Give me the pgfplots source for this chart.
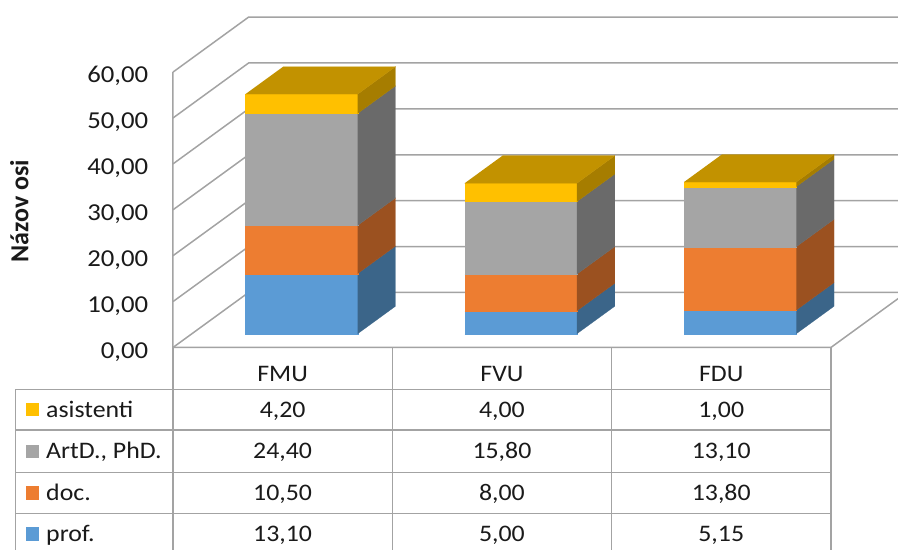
\documentclass[border=0pt]{standalone}
\usepackage{pgfplots}
\pgfplotsset{compat=1.18}
\usepackage{pgfplotstable}
\usepackage{fontspec}
\setmainfont{Carlito}
\newfontfamily\tickfont{Carlito}[FakeStretch=1.1]
\newfontfamily\tabfont{Carlito}[FakeStretch=1.09]

\definecolor{cBlue}{HTML}{5B9BD5}
\definecolor{cBlueS}{HTML}{3B6589}
\definecolor{cOr}{HTML}{ED7D31}
\definecolor{cOrS}{HTML}{9B5120}
\definecolor{cGr}{HTML}{A5A5A5}
\definecolor{cGrS}{HTML}{6A6A6A}
\definecolor{cYe}{HTML}{FFC000}
\definecolor{cYeS}{HTML}{A67D00}
\definecolor{cYeT}{HTML}{C29200}
\definecolor{gridc}{HTML}{A3A3A3}
\definecolor{txt}{HTML}{1A1A1A}

\pgfkeys{/pgf/number format/.cd,fixed,fixed zerofill,precision=2,use comma,assume math mode=true}

\tikzset{
  tabtxt/.style={font=\tabfont\fontsize{23.7}{28}\selectfont, text=txt, inner sep=0pt},
  ticktxt/.style={font=\tickfont\fontsize{24.3}{28}\selectfont, text=txt, inner sep=0pt, anchor=base east},
  gridl/.style={color=gridc, line width=1.5pt},
}

\pgfplotstableread{
name prof doc phd asis
FMU 13.10 10.50 24.40 4.20
FVU 5.00 8.00 15.80 4.00
FDU 5.15 13.80 13.10 1.00
}\data

\newcommand\face[2]{\edef\myTmp{\noexpand\addplot3[fill=#1,draw=#1,line width=0.2pt] coordinates {#2};}\myTmp}
\newcommand\segment[4]{%
 \face{#3}{(\xl,0.25,#1) (\xr,0.25,#1) (\xr,0.25,#2) (\xl,0.25,#2)}%
 \face{#4}{(\xr,0.25,#1) (\xr,0.75,#1) (\xr,0.75,#2) (\xr,0.25,#2)}}

\begin{document}
\begin{tikzpicture}
\begin{axis}[
  x={(219.3pt,0pt)}, y={(75.6pt,55pt)}, z={(0pt,4.59pt)},
  hide axis, clip=false,
  xmin=0, xmax=3, ymin=0, ymax=1, zmin=0, zmax=60,
]
% walls and floor
\pgfplotsinvokeforeach{0,10,20,30,40,50,60}{
  \addplot3[gridl] coordinates {(0,0,#1) (0,1,#1) (3.1,1,#1)};
  \pgfmathsetmacro\tz{#1-2.35}
  \edef\myTmp{\noexpand\node[ticktxt] at (axis cs:-0.112,0,\tz) {\noexpand\pgfmathprintnumber{#1}};}\myTmp
}
\addplot3[gridl] coordinates {(0,0,60) (0,0,0) (3,0,0) (3,1,0)};

% bars and table values
\pgfplotsinvokeforeach{0,1,2}{
  \pgfplotstablegetelem{#1}{name}\of\data \let\vN\pgfplotsretval
  \pgfplotstablegetelem{#1}{prof}\of\data \let\vA\pgfplotsretval
  \pgfplotstablegetelem{#1}{doc}\of\data \let\vB\pgfplotsretval
  \pgfplotstablegetelem{#1}{phd}\of\data \let\vC\pgfplotsretval
  \pgfplotstablegetelem{#1}{asis}\of\data \let\vD\pgfplotsretval
  \pgfmathsetmacro\zA{\vA}
  \pgfmathsetmacro\zB{\zA+\vB}
  \pgfmathsetmacro\zC{\zB+\vC}
  \pgfmathsetmacro\zD{\zC+\vD}
  \pgfmathsetmacro\xl{#1+0.244}
  \pgfmathsetmacro\xr{#1+0.756}
  \pgfmathsetmacro\xc{#1+0.5}
  \segment{0}{\zA}{cBlue}{cBlueS}
  \segment{\zA}{\zB}{cOr}{cOrS}
  \segment{\zB}{\zC}{cGr}{cGrS}
  \segment{\zC}{\zD}{cYe}{cYeS}
  \face{cYeT}{(\xl,0.25,\zD) (\xr,0.25,\zD) (\xr,0.75,\zD) (\xl,0.75,\zD)}
  \edef\myTmp{%
    \noexpand\node[tabtxt,anchor=base] at (axis cs:\xc,0,-7.45) {\vN};
    \noexpand\node[tabtxt,anchor=base] at (axis cs:\xc,0,-15.36) {\noexpand\pgfmathprintnumber{\vD}};
    \noexpand\node[tabtxt,anchor=base] at (axis cs:\xc,0,-24.29) {\noexpand\pgfmathprintnumber{\vC}};
    \noexpand\node[tabtxt,anchor=base] at (axis cs:\xc,0,-33.33) {\noexpand\pgfmathprintnumber{\vB}};
    \noexpand\node[tabtxt,anchor=base] at (axis cs:\xc,0,-42.31) {\noexpand\pgfmathprintnumber{\vA}};
  }\myTmp
}

% data table grid
\draw[gridl] (axis cs:0,0,0) -- (axis cs:0,0,-46);
\draw[gridl] (axis cs:1,0,0) -- (axis cs:1,0,-46);
\draw[gridl] (axis cs:2,0,0) -- (axis cs:2,0,-46);
\draw[gridl] (axis cs:3,0,0) -- (axis cs:3,0,-46);
\draw[gridl] (axis cs:-0.7173,0,-9.107) -- (axis cs:-0.7173,0,-46);
\draw[gridl] (axis cs:-0.7173,0,-9.107) -- (axis cs:3,0,-9.107);
\draw[gridl] (axis cs:-0.7173,0,-17.97) -- (axis cs:3,0,-17.97);
\draw[gridl] (axis cs:-0.7173,0,-27.28) -- (axis cs:3,0,-27.28);
\draw[gridl] (axis cs:-0.7173,0,-36.12) -- (axis cs:3,0,-36.12);

% legend keys
\fill[cYe]  (axis cs:-0.6717,0,-12.11) rectangle (axis cs:-0.6124,0,-14.95);
\fill[cGr]  (axis cs:-0.6717,0,-21.22) rectangle (axis cs:-0.6124,0,-24.06);
\fill[cOr]  (axis cs:-0.6717,0,-30.28) rectangle (axis cs:-0.6124,0,-33.12);
\fill[cBlue](axis cs:-0.6717,0,-39.21) rectangle (axis cs:-0.6124,0,-42.05);
\node[tabtxt,anchor=base west] at (axis cs:-0.5791,0,-15.36) {asistenti};
\node[tabtxt,anchor=base west] at (axis cs:-0.5791,0,-24.29) {ArtD., PhD.};
\node[tabtxt,anchor=base west] at (axis cs:-0.5791,0,-33.33) {doc.};
\node[tabtxt,anchor=base west] at (axis cs:-0.5791,0,-42.31) {prof.};

% axis title
\node[rotate=90, anchor=base, font=\bfseries\fontsize{26}{30}\selectfont, text=txt, inner sep=0pt] at (axis cs:-0.66,0,29.74) {Názov osi};

\coordinate (ll) at (axis cs:-0.78888,0,-44.1176);
\coordinate (ur) at (axis cs:3.30598,0,75.708);
\end{axis}
\pgfresetboundingbox
\useasboundingbox (ll) rectangle (ur);
\end{tikzpicture}
\end{document}
